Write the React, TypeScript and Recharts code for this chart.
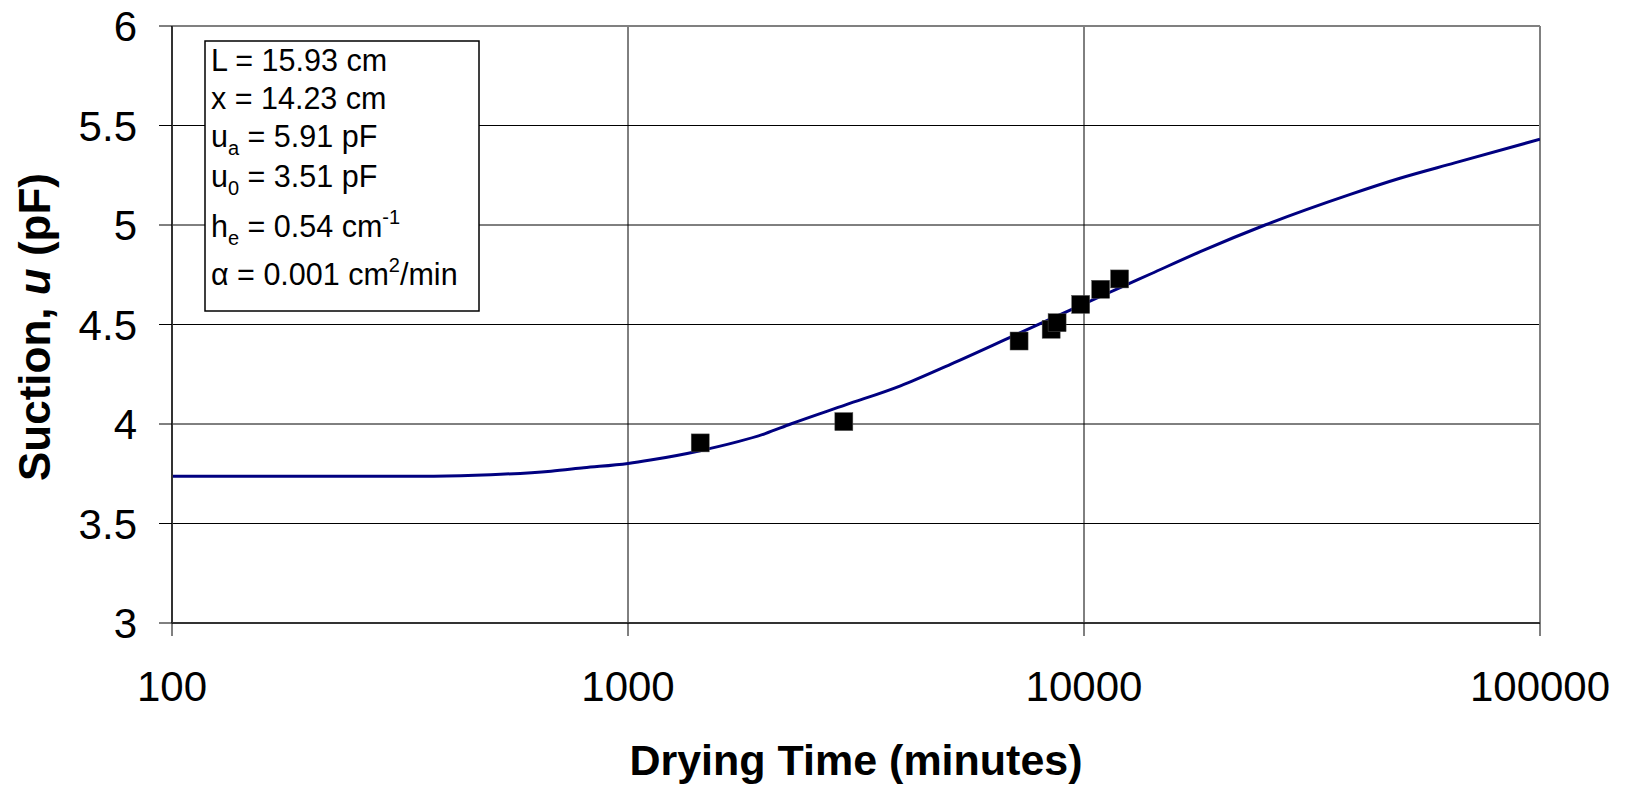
import React from 'react'
import { ComposedChart, Line, Scatter, XAxis, YAxis, CartesianGrid, ReferenceLine } from 'recharts'

// fitted model curve
const curveTime = [100, 200, 375, 500, 678, 800, 1000, 1120, 1440, 2000, 2274, 3000, 3959, 5096, 7000, 10000, 12000, 14030, 17990, 24950, 38370, 49300, 65000, 100000]
const curveSuction = [3.737, 3.737, 3.738, 3.745, 3.763, 3.78, 3.802, 3.819, 3.866, 3.952, 4.0, 4.096, 4.192, 4.3, 4.443, 4.604, 4.685, 4.755, 4.866, 5.0, 5.154, 5.235, 5.312, 5.431]

// measured points
const pointTime = [1440, 2974, 7205, 8472, 8730, 9835, 10879, 11970]
const pointSuction = [3.905, 4.012, 4.417, 4.476, 4.509, 4.601, 4.677, 4.729]

const xTicks = [100, 1000, 10000, 100000]
const yTicks = [3, 3.5, 4, 4.5, 5, 5.5, 6]

const curveData = curveTime.map((t, i) => ({ t, u: curveSuction[i] }))
const pointData = pointTime.map((t, i) => ({ t, u: pointSuction[i] }))

const FONT = '"Liberation Sans", Arial, sans-serif'

const XTick = (props: any) => {
  const { x, y, payload } = props
  return (
    <text x={x} y={y} dy={65} textAnchor="middle" fontSize={42} fontFamily={FONT} fill="#000">
      {payload.value}
    </text>
  )
}

const YTick = (props: any) => {
  const { x, y, payload } = props
  return (
    <text x={x} y={y} dy={15} textAnchor="end" fontSize={42} fontFamily={FONT} fill="#000">
      {payload.value}
    </text>
  )
}

const Square = (props: any) => {
  const { cx, cy } = props
  return <rect x={cx - 9} y={cy - 9} width={18} height={18} fill="#000" stroke="#555" strokeWidth={0.5} />
}

function ParamBox() {
  const fs = 30.5
  const sub = 20
  return (
    <g fontFamily={FONT} fontSize={fs} fill="#000">
      <rect x={205} y={41} width={274} height={270} fill="#fff" stroke="#000" strokeWidth={1.5} />
      <text x={211} y={71}>L = 15.93 cm</text>
      <text x={211} y={109}>x = 14.23 cm</text>
      <text x={211} y={147}>
        u<tspan fontSize={sub} dy={8}>a</tspan>
        <tspan dy={-8}> = 5.91 pF</tspan>
      </text>
      <text x={211} y={187}>
        u<tspan fontSize={sub} dy={8}>0</tspan>
        <tspan dy={-8}> = 3.51 pF</tspan>
      </text>
      <text x={211} y={237}>
        h<tspan fontSize={sub} dy={8}>e</tspan>
        <tspan dy={-8}> =  0.54 cm</tspan>
        <tspan fontSize={sub} dy={-13}>-1</tspan>
      </text>
      <text x={211} y={285}>
        α = 0.001 cm<tspan fontSize={sub} dy={-13}>2</tspan>
        <tspan dy={13}>/min</tspan>
      </text>
    </g>
  )
}

export default function App() {
  return (
    <div style={{ position: 'absolute', left: 0, top: 0, width: 1629, height: 785, background: '#fff' }}>
      <ComposedChart width={1629} height={785} margin={{ top: 26, right: 89, bottom: 0, left: 0 }}>
        <CartesianGrid stroke="#000" strokeWidth={1} />
        <XAxis
          dataKey="t"
          type="number"
          scale="log"
          domain={[100, 100000]}
          ticks={xTicks}
          allowDataOverflow
          height={162}
          tickSize={13}
          tickMargin={0}
          axisLine={{ stroke: '#333', strokeWidth: 2 }}
          tickLine={{ stroke: '#000', strokeWidth: 1 }}
          tick={<XTick />}
          interval={0}
        />
        <YAxis
          dataKey="u"
          type="number"
          domain={[3, 6]}
          ticks={yTicks}
          allowDataOverflow
          width={172}
          tickSize={13}
          tickMargin={22}
          axisLine={{ stroke: '#333', strokeWidth: 2 }}
          tickLine={{ stroke: '#000', strokeWidth: 1 }}
          tick={<YTick />}
          interval={0}
        />
        <ReferenceLine y={6} stroke="#808080" strokeWidth={2} />
        <ReferenceLine x={100000} stroke="#808080" strokeWidth={2} />
        <Line
          data={curveData}
          dataKey="u"
          type="monotone"
          stroke="#000080"
          strokeWidth={3}
          dot={false}
          isAnimationActive={false}
        />
        <Scatter data={pointData} dataKey="u" shape={<Square />} isAnimationActive={false} />
      </ComposedChart>
      <svg width={1629} height={785} style={{ position: 'absolute', left: 0, top: 0, pointerEvents: 'none' }}>
        <ParamBox />
        <text x={856} y={775} textAnchor="middle" fontSize={43} fontWeight="bold" fontFamily={FONT} fill="#000">
          Drying Time (minutes)
        </text>
        <text
          x={50}
          y={327}
          transform="rotate(-90 50 327)"
          textAnchor="middle"
          fontSize={44}
          fontWeight="bold"
          fontFamily={FONT}
          fill="#000"
        >
          Suction, <tspan fontStyle="italic">u</tspan> (pF)
        </text>
      </svg>
    </div>
  )
}
